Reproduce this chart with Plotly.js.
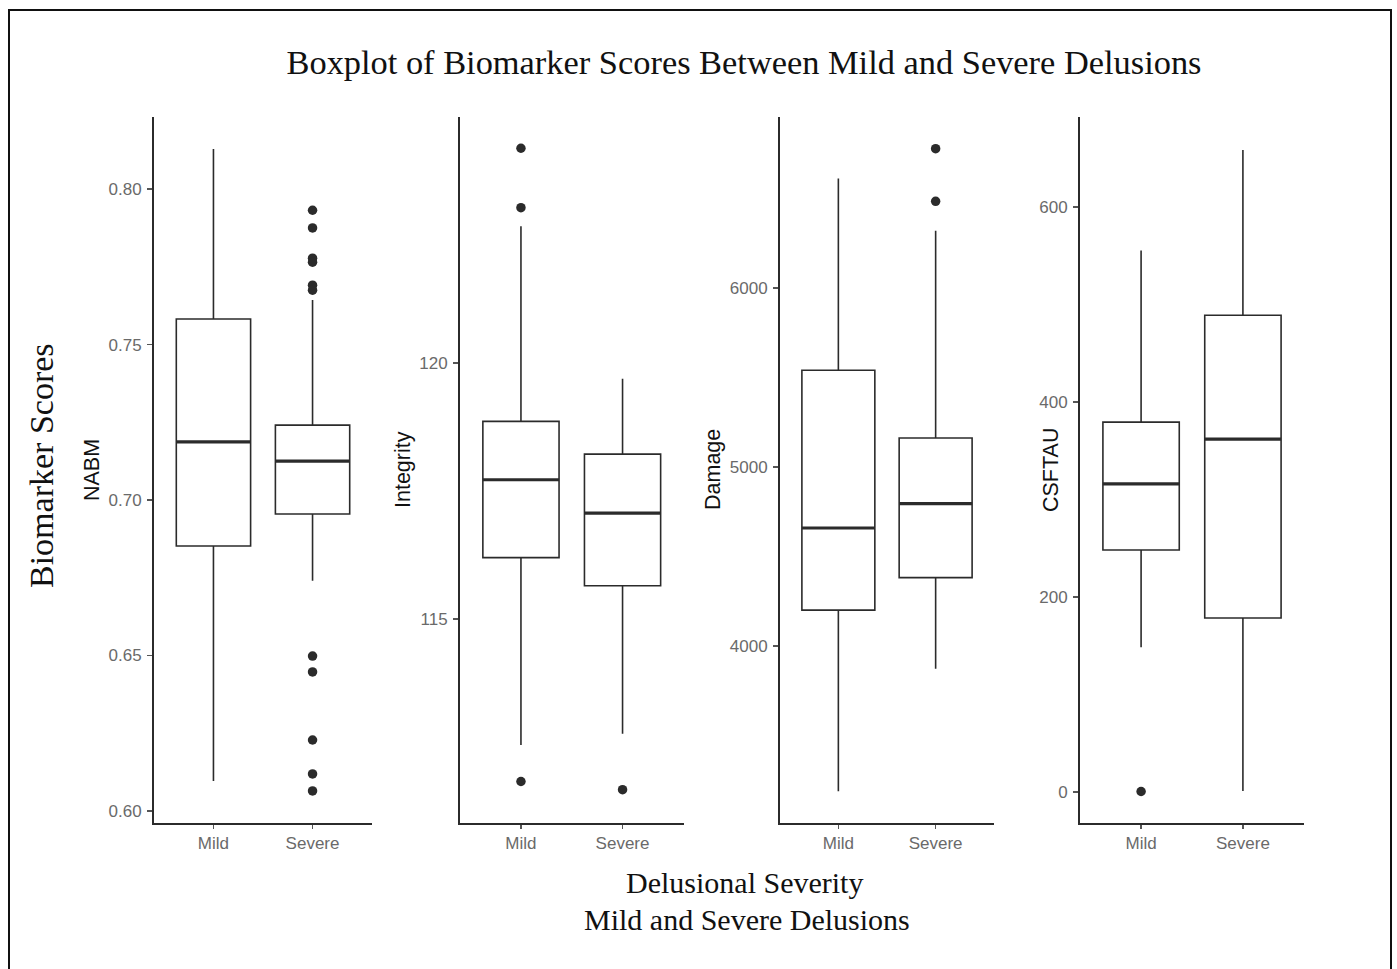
<!DOCTYPE html>
<html>
<head>
<meta charset="utf-8">
<script src="https://cdn.plot.ly/plotly-3.0.1.min.js"></script>
<style>
  html, body { margin: 0; padding: 0; background: #ffffff; }
  #chart { width: 1397px; height: 969px; }
</style>
</head>
<body>
<div id="chart"></div>
<script>
// ---- data ----
const categories = ['Mild', 'Severe'];

const nabmQ1  = [0.6852, 0.6955];
const nabmMed = [0.7187, 0.7125];
const nabmQ3  = [0.7582, 0.7241];
const nabmLo  = [0.6096, 0.6740];
const nabmHi  = [0.8129, 0.7643];
const nabmOutMild = [];
const nabmOutSevere = [0.7932, 0.7875, 0.7778, 0.7765, 0.7691, 0.7675, 0.6498, 0.6447, 0.6228, 0.6119, 0.6064];

const integQ1  = [116.20, 115.65];
const integMed = [117.72, 117.07];
const integQ3  = [118.86, 118.22];
const integLo  = [112.54, 112.76];
const integHi  = [122.67, 119.69];
const integOutMild = [124.19, 123.03, 111.83];
const integOutSevere = [111.67];

const damageQ1  = [4200, 4382];
const damageMed = [4659, 4795];
const damageQ3  = [5540, 5162];
const damageLo  = [3188, 3873];
const damageHi  = [6612, 6320];
const damageOutMild = [];
const damageOutSevere = [6778, 6484];

const tauQ1  = [248.2, 178.5];
const tauMed = [316.0, 362.0];
const tauQ3  = [379.4, 488.9];
const tauLo  = [148.5, 1.0];
const tauHi  = [555.5, 658.4];
const tauOutMild = [0.5];
const tauOutSevere = [];

const panelTitles = ['NABM', 'Integrity', 'Damage', 'CSFTAU'];
const chartTitle = 'Boxplot of Biomarker Scores Between Mild and Severe Delusions';
const yTitle = 'Biomarker Scores';
const xTitle1 = 'Delusional Severity';
const xTitle2 = 'Mild and Severe Delusions';

// ---- styling / layout constants ----
const W = 1397, H = 969;
const BOX_W = 0.75;
const INK = '#2b2b2b';
const px = v => v / W;
const py = v => 1 - v / H;

const panels = [
  { q1: nabmQ1, med: nabmMed, q3: nabmQ3, lo: nabmLo, hi: nabmHi, out: [nabmOutMild, nabmOutSevere],
    dom: [154, 372], range: [0.5961, 0.8232], dtick: 0.05, fmt: '.2f', titleX: 92 },
  { q1: integQ1, med: integMed, q3: integQ3, lo: integLo, hi: integHi, out: [integOutMild, integOutSevere],
    dom: [460, 683.5], range: [111.02, 124.8], dtick: 5, fmt: 'd', titleX: 403 },
  { q1: damageQ1, med: damageMed, q3: damageQ3, lo: damageLo, hi: damageHi, out: [damageOutMild, damageOutSevere],
    dom: [780, 994], range: [3011, 6955], dtick: 1000, fmt: 'd', titleX: 713 },
  { q1: tauQ1, med: tauMed, q3: tauQ3, lo: tauLo, hi: tauHi, out: [tauOutMild, tauOutSevere],
    dom: [1080, 1304], range: [-31.8, 692.3], dtick: 200, fmt: 'd', titleX: 1051 }
];

const pos = categories.map((c, i) => i);
const traces = [];
const layout = {
  width: W, height: H,
  margin: { l: 0, r: 0, t: 0, b: 0 },
  paper_bgcolor: '#ffffff',
  plot_bgcolor: '#ffffff',
  showlegend: false,
  title: {
    text: chartTitle,
    x: px(744), xanchor: 'center', xref: 'paper',
    y: py(62), yanchor: 'middle', yref: 'container',
    font: { family: 'Liberation Serif, serif', size: 34.4, color: '#111111' }
  },
  shapes: [{
    type: 'rect', xref: 'paper', yref: 'paper',
    x0: px(9), x1: px(1391), y0: -0.05, y1: py(10),
    line: { color: '#111111', width: 2 }, fillcolor: 'rgba(0,0,0,0)', layer: 'above'
  }],
  annotations: []
};

panels.forEach((p, k) => {
  const n = k + 1;
  const xa = n === 1 ? 'x' : 'x' + n;
  const ya = n === 1 ? 'y' : 'y' + n;

  traces.push({
    type: 'box',
    x: pos, q1: p.q1, median: p.med, q3: p.q3, lowerfence: p.lo, upperfence: p.hi,
    width: BOX_W, whiskerwidth: 0, boxpoints: false,
    fillcolor: '#ffffff', line: { color: INK, width: 1.6 },
    xaxis: xa, yaxis: ya, hoverinfo: 'skip'
  });

  // thicker median bar (ggplot style)
  const mx = [], my = [];
  pos.forEach((c, i) => {
    mx.push(c - BOX_W / 2, c + BOX_W / 2, null);
    my.push(p.med[i], p.med[i], null);
  });
  traces.push({
    type: 'scatter', mode: 'lines', x: mx, y: my,
    line: { color: INK, width: 3.2 }, xaxis: xa, yaxis: ya, hoverinfo: 'skip'
  });

  // outliers
  const ox = [], oy = [];
  p.out.forEach((arr, i) => arr.forEach(v => { ox.push(pos[i]); oy.push(v); }));
  traces.push({
    type: 'scatter', mode: 'markers', x: ox, y: oy,
    marker: { color: INK, size: 9.5 }, xaxis: xa, yaxis: ya, hoverinfo: 'skip'
  });

  layout['xaxis' + (n === 1 ? '' : n)] = {
    domain: [px(p.dom[0]), px(p.dom[1])],
    anchor: ya,
    range: [-0.6, 1.6],
    tickmode: 'array', tickvals: pos, ticktext: categories,
    showline: true, linecolor: INK, linewidth: 2,
    ticks: 'outside', ticklen: 4, tickwidth: 1.3, tickcolor: '#555555',
    ticklabelstandoff: 0,
    tickfont: { family: 'Liberation Sans, Arial, sans-serif', size: 17, color: '#6a6a6a' },
    showgrid: false, zeroline: false, fixedrange: true
  };
  layout['yaxis' + (n === 1 ? '' : n)] = {
    domain: [py(823), py(117)],
    anchor: xa,
    range: p.range,
    tickmode: 'linear', dtick: p.dtick, tickformat: p.fmt,
    showline: true, linecolor: INK, linewidth: 2,
    ticks: 'outside', ticklen: 5, tickwidth: 1.3, tickcolor: '#555555',
    ticklabelstandoff: 2,
    tickfont: { family: 'Liberation Sans, Arial, sans-serif', size: 17, color: '#6a6a6a' },
    showgrid: false, zeroline: false, fixedrange: true
  };

  layout.annotations.push({
    text: panelTitles[k], xref: 'paper', yref: 'paper',
    x: px(p.titleX), y: py(470), xanchor: 'center', yanchor: 'middle',
    textangle: -90, showarrow: false,
    font: { family: 'Liberation Sans, Arial, sans-serif', size: 21.5, color: '#111111' }
  });
});

layout.annotations.push(
  { text: yTitle, xref: 'paper', yref: 'paper', x: px(42), y: py(466),
    xanchor: 'center', yanchor: 'middle', textangle: -90, showarrow: false,
    font: { family: 'Liberation Serif, serif', size: 34, color: '#111111' } },
  { text: xTitle1, xref: 'paper', yref: 'paper', x: px(744), y: py(882),
    xanchor: 'center', yanchor: 'middle', showarrow: false,
    font: { family: 'Liberation Serif, serif', size: 30, color: '#111111' } },
  { text: xTitle2, xref: 'paper', yref: 'paper', x: px(747), y: py(919),
    xanchor: 'center', yanchor: 'middle', showarrow: false,
    font: { family: 'Liberation Serif, serif', size: 30, color: '#111111' } }
);

Plotly.newPlot('chart', traces, layout, { displayModeBar: false, staticPlot: true });
</script>
</body>
</html>
